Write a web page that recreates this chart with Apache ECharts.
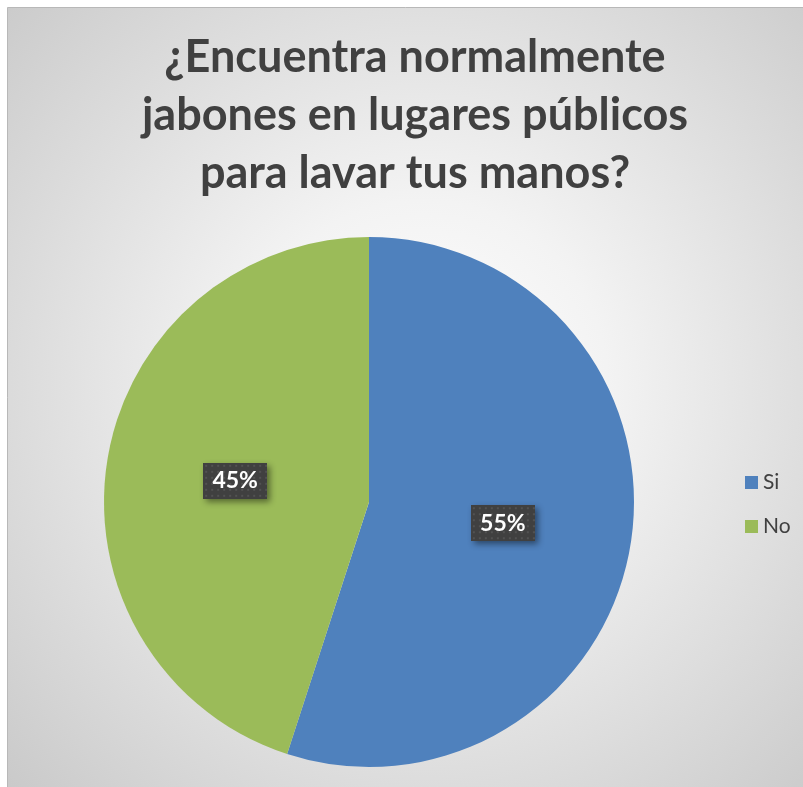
<!DOCTYPE html>
<html>
<head>
<meta charset="utf-8">
<script src="https://cdn.jsdelivr.net/npm/echarts@6/dist/echarts.min.js"></script>
<style>
  html, body { margin: 0; padding: 0; background: #ffffff; }
  #chart { width: 803px; height: 787px; }
</style>
</head>
<body>
<div id="chart"></div>
<script>
// Survey answers
const categories = ['Si', 'No'];
const values = [55, 45];
const sliceColors = ['#4f81bd', '#9bbb59'];
const titleText = '¿Encuentra normalmente\njabones en lugares públicos\npara lavar tus manos?';

// Dark dotted texture for the value boxes
function dottedTile(w, h) {
  const c = document.createElement('canvas');
  c.width = w; c.height = h;
  const g = c.getContext('2d');
  g.fillStyle = '#404040';
  g.fillRect(0, 0, w, h);
  g.fillStyle = '#525252';
  for (let y = 2; y < h; y += 6) {
    for (let x = 2; x < w; x += 6) {
      g.fillRect(x, y, 2, 2);
    }
  }
  return c;
}
const tile = dottedTile(64, 36);

const chart = echarts.init(document.getElementById('chart'), null, { renderer: 'canvas' });

chart.setOption({
  animation: false,
  backgroundColor: '#ffffff',
  graphic: [{
    type: 'rect',
    z: -10,
    silent: true,
    shape: { x: 7.5, y: 7.5, width: 800, height: 785 },
    style: {
      fill: {
        type: 'radial', x: 0.52, y: 0.48, r: 0.78,
        colorStops: [
          { offset: 0, color: '#ffffff' },
          { offset: 0.3, color: '#f3f3f3' },
          { offset: 1, color: '#c6c6c6' }
        ]
      },
      stroke: '#b8b8b8',
      lineWidth: 1
    }
  }],
  title: {
    text: titleText,
    left: 410,
    top: 23,
    textAlign: 'center',
    textStyle: {
      fontFamily: 'Lato',
      fontWeight: 'bold',
      fontSize: 45,
      lineHeight: 58,
      color: '#404040'
    }
  },
  legend: {
    orient: 'vertical',
    left: 740,
    top: 467,
    itemWidth: 13,
    itemHeight: 13,
    itemGap: 23,
    icon: 'rect',
    selectedMode: false,
    data: categories,
    textStyle: {
      fontFamily: 'Lato',
      fontSize: 21,
      lineHeight: 20,
      color: '#404040'
    }
  },
  series: [{
    type: 'pie',
    center: [369, 502],
    radius: 265,
    startAngle: 90,
    clockwise: true,
    silent: true,
    color: sliceColors,
    itemStyle: { borderWidth: 0 },
    labelLine: { show: false },
    label: {
      show: true,
      position: 'inside',
      formatter: '{c}%',
      fontFamily: 'Lato',
      fontWeight: 'bold',
      fontSize: 23,
      color: '#ffffff',
      backgroundColor: { image: tile },
      width: 46,
      overflow: 'none',
      align: 'center',
      padding: [7, 9, 6, 9],
      shadowColor: 'rgba(0,0,0,0.45)',
      shadowBlur: 6,
      shadowOffsetX: 3,
      shadowOffsetY: 3
    },
    data: categories.map((name, i) => ({ name: name, value: values[i] }))
  }]
});
</script>
</body>
</html>
